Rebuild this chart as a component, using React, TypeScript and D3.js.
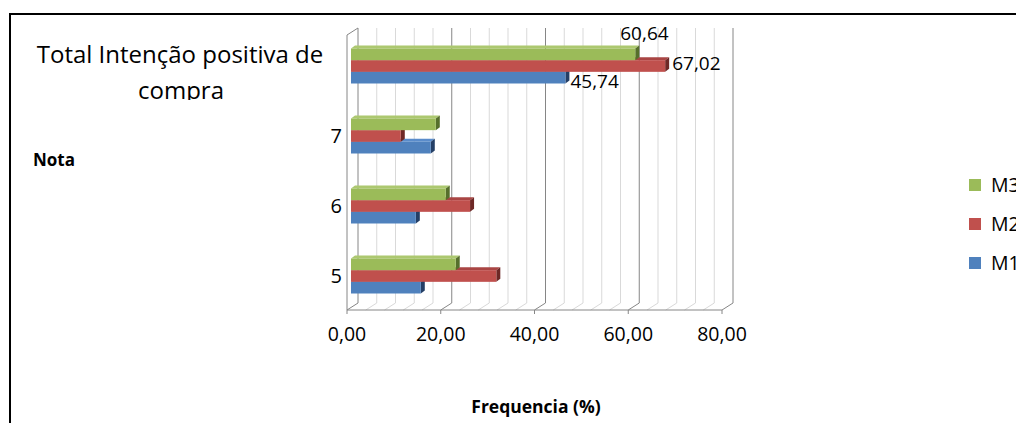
import React from "react";
import * as d3 from "d3";

const categories = ["5", "6", "7", "Total"];
const seriesNames = ["M1", "M2", "M3"];
const m1Values = [14.89, 13.83, 17.02, 45.74];
const m2Values = [31.0, 25.4, 10.62, 67.02];
const m3Values = [22.34, 20.21, 18.09, 60.64];
const xTicks = [0, 20, 40, 60, 80];
const minorStep = 4;

const seriesValues = [m1Values, m2Values, m3Values];
const colors = ["#4F81BD", "#C0504D", "#9BBB59"];
const topColors = ["#5a8ccb", "#a94543", "#acc86f"];
const endColors = ["#243f66", "#6e2826", "#566f2c"];

const fmt = (v: number) => v.toFixed(2).replace(".", ",");

export default function App() {
  const W = 1016, H = 423;
  const x = d3.scaleLinear().domain([0, 80]).range([347, 722]);
  const xb = d3.scaleLinear().domain([0, 80]).range([351, 726]);
  const dx = 11, dy = -7;
  const yFrontTop = 35, yFrontBot = 310;
  const yBand = d3.scaleBand<string>().domain(categories).range([311, 31]);
  const inner = d3.scaleBand<string>().domain(["M3", "M2", "M1"]).range([-17.5, 17.5]);
  const bdx = 4, bdy = -3;

  const gridVals = d3.range(0, 80 + 0.001, minorStep);
  const isMajor = (v: number) => Math.abs(v % 20) < 1e-6;

  const labelStyle = [
    { ox: 5, oy: 10 },
    { ox: 7, oy: 4 },
    { ox: -15, oy: -14 },
  ];

  return (
    <svg width={W} height={H} style={{ position: "absolute", left: 0, top: 0, display: "block" }}
      fontFamily="'Open Sans', sans-serif">
      <defs>
        <clipPath id="titleClip">
          <rect x={0} y={0} width={345} height={100} />
        </clipPath>
      </defs>
      <rect x={0} y={0} width={W} height={H} fill="#fff" />
      {gridVals.map((v) => (
        <line key={"bw" + v} x1={x(v) + dx} x2={x(v) + dx} y1={yFrontTop + dy} y2={yFrontBot + dy}
          stroke={isMajor(v) ? "#868686" : "#d9d9d9"} strokeWidth={1} />
      ))}
      {gridVals.map((v) => (
        <line key={"fl" + v} x1={x(v)} x2={x(v) + dx} y1={yFrontBot} y2={yFrontBot + dy}
          stroke={isMajor(v) ? "#868686" : "#d9d9d9"} strokeWidth={1} />
      ))}
      <line x1={x(0)} x2={x(0)} y1={yFrontTop} y2={yFrontBot} stroke="#868686" />
      <line x1={x(0)} x2={x(0) + dx} y1={yFrontTop} y2={yFrontTop + dy} stroke="#868686" />
      <line x1={x(0)} x2={x(80)} y1={yFrontBot} y2={yFrontBot} stroke="#868686" />
      {xTicks.map((t) => (
        <line key={"tk" + t} x1={x(t)} x2={x(t)} y1={yFrontBot} y2={yFrontBot + 4} stroke="#868686" />
      ))}
      {xTicks.map((t) => (
        <text key={"tl" + t} x={x(t)} y={341} textAnchor="middle" fontSize={19.5} fill="#000">{fmt(t)}</text>
      ))}

      {categories.map((c, ci) => (
        <g key={"g" + c}>
          {seriesValues.map((vals, si) => {
            const v = vals[ci];
            const y0 = (yBand(c) as number) + yBand.bandwidth() / 2 + (inner(seriesNames[si]) as number);
            const h = inner.bandwidth();
            const x0 = xb(0), x1 = xb(v);
            return (
              <g key={"b" + si}>
                <path d={`M${x0},${y0} L${x0 + bdx},${y0 + bdy} L${x1 + bdx},${y0 + bdy} L${x1},${y0} Z`} fill={topColors[si]} />
                <path d={`M${x1},${y0} L${x1 + bdx},${y0 + bdy} L${x1 + bdx},${y0 + h + bdy} L${x1},${y0 + h} Z`} fill={endColors[si]} />
                <rect x={x0} y={y0} width={x1 - x0} height={h} fill={colors[si]} />
              </g>
            );
          })}
        </g>
      ))}
      {seriesValues.map((vals, si) => {
        const ci = categories.length - 1;
        const c = categories[ci];
        const yc = (yBand(c) as number) + yBand.bandwidth() / 2 + (inner(seriesNames[si]) as number) + inner.bandwidth() / 2;
        return (
          <text key={"dl" + si} x={xb(vals[ci]) + labelStyle[si].ox} y={yc + labelStyle[si].oy}
            fontSize={19} fill="#000">{fmt(vals[ci])}</text>
        );
      })}
      {categories.filter((c) => c !== "Total").map((c) => (
        <text key={"cl" + c} x={342} y={(yBand(c) as number) + yBand.bandwidth() / 2 + 7}
          textAnchor="end" fontSize={20} fill="#000">{c}</text>
      ))}

      <g clipPath="url(#titleClip)">
        <text x={180} y={63} textAnchor="middle" fontSize={24} fill="#000">Total Intenção positiva de</text>
        <text x={181} y={99} textAnchor="middle" fontSize={24} fill="#000">compra</text>
      </g>

      <text x={33} y={166} fontSize={17} fontWeight="bold" fill="#000">Nota</text>
      <text x={536} y={413} textAnchor="middle" fontSize={17.5} fontWeight="bold" fill="#000">Frequencia (%)</text>

      {[2, 1, 0].map((si, i) => (
        <g key={"lg" + si} transform={`translate(969,${179 + i * 39})`}>
          <rect x={0} y={0} width={12} height={12} fill={colors[si]} />
          <text x={22} y={12.5} fontSize={19.5} fill="#000">{seriesNames[si]}</text>
        </g>
      ))}

      <path d={`M10,${H + 5} V14 H${W + 5}`} fill="none" stroke="#000" strokeWidth={2} />
    </svg>
  );
}
